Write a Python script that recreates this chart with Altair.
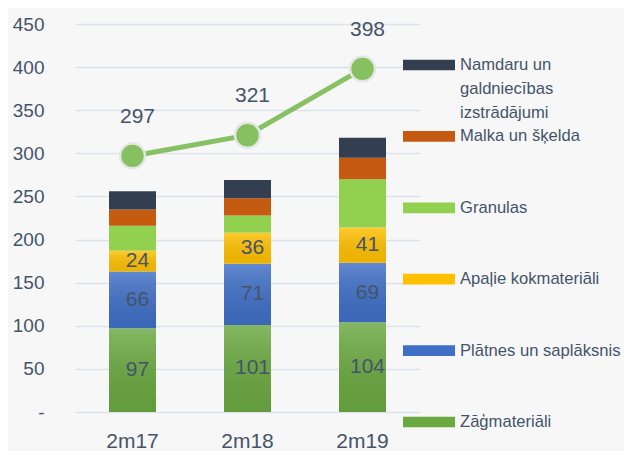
import altair as alt
import pandas as pd

years = ["2m17", "2m18", "2m19"]
series = ["Zāģmateriāli", "Plātnes un saplāksnis", "Apaļie kokmateriāli",
          "Granulas", "Malka un šķelda", "Namdaru un galdniecības izstrādājumi"]
zag = [97, 101, 104]
plat = [66, 71, 69]
apal = [24, 36, 41]
gran = [29, 20, 56]
malka = [19, 20, 25]
namd = [21, 21, 23]
totals = [297, 321, 398]
colors = ["#6AA840", "#3F6FC6", "#FFC000", "#92D050", "#C55A11", "#333F50"]
legend_labels = ["Namdaru un\ngaldniecības\nizstrādājumi", "Malka un šķelda", "Granulas",
                 "Apaļie kokmateriāli", "Plātnes un saplāksnis", "Zāģmateriāli"]
y_ticks = [0, 50, 100, 150, 200, 250, 300, 350, 400, 450]

FONT = "Liberation Sans, Arial, sans-serif"
TXT = "#44546A"

values = [zag, plat, apal, gran, malka, namd]
rows = []
for si, (name, vals) in enumerate(zip(series, values)):
    for yi, yr in enumerate(years):
        rows.append({"year": yr, "series": name, "idx": si, "value": vals[yi]})
df = pd.DataFrame(rows)
tot_df = pd.DataFrame({"year": years, "total": totals})
leg_df = pd.DataFrame({
    "series": list(reversed(series)),
    "label": legend_labels,
    "pos": list(range(6)),
})

yscale = alt.Scale(domain=[0, 450], nice=False, zero=True)
xscale = alt.Scale(domain=years, paddingInner=0, paddingOuter=0)

base = alt.Chart(df).transform_stack(
    stack="value", groupby=["year"], sort=[alt.SortField("idx", order="ascending")],
    as_=["y0", "y1"]
)

bars = base.mark_bar(size=47).encode(
    x=alt.X("year:N", scale=xscale, sort=years, title=None,
            axis=alt.Axis(labelAngle=0, ticks=False, domain=False, grid=False,
                          labelFontSize=21, labelFont=FONT, labelColor=TXT,
                          labelPadding=18)),
    y=alt.Y("y1:Q", scale=yscale, title=None,
            axis=alt.Axis(values=y_ticks, ticks=False, domain=False, grid=True,
                          gridColor="#DCE2EA", gridWidth=1.5,
                          labelFontSize=19, labelFont=FONT, labelColor=TXT,
                          labelPadding=31,
                          labelExpr="datum.value == 0 ? '-\u00a0\u00a0\u00a0' : datum.label")),
    y2="y0:Q",
    color=alt.Color("series:N", scale=alt.Scale(domain=series, range=colors), legend=None),
)

overlay = base.transform_filter("datum.idx < 3").mark_bar(
    size=47,
    color=alt.Gradient(
        gradient="linear", x1=0, y1=0, x2=0, y2=1,
        stops=[alt.GradientStop(offset=0, color="rgba(255,255,255,0.18)"),
               alt.GradientStop(offset=1, color="rgba(0,0,0,0.07)")],
    ),
).encode(
    x=alt.X("year:N", scale=xscale, sort=years),
    y=alt.Y("y1:Q", scale=yscale),
    y2="y0:Q",
)

bar_labels = base.transform_filter("datum.idx < 3").transform_calculate(
    mid="(datum.y0 + datum.y1) / 2"
).mark_text(fontSize=21, font=FONT, color=TXT, dx=5, baseline="middle").encode(
    x=alt.X("year:N", scale=xscale, sort=years),
    y=alt.Y("mid:Q", scale=yscale),
    text="value:Q",
)

line = alt.Chart(tot_df).mark_line(color="#88C163", strokeWidth=5).encode(
    x=alt.X("year:N", scale=xscale, sort=years),
    y=alt.Y("total:Q", scale=yscale),
)
pts = alt.Chart(tot_df).mark_point(filled=True, size=620, fill="#86C060",
                                   stroke="#E4E6E4", strokeWidth=2.5, opacity=1).encode(
    x=alt.X("year:N", scale=xscale, sort=years),
    y=alt.Y("total:Q", scale=yscale),
)
pt_labels = alt.Chart(tot_df).mark_text(fontSize=21, font=FONT, color=TXT, dx=5, dy=-39,
                                        baseline="middle").encode(
    x=alt.X("year:N", scale=xscale, sort=years),
    y=alt.Y("total:Q", scale=yscale),
    text="total:Q",
)

main = alt.layer(bars, overlay, bar_labels, line, pts, pt_labels)

lscale = alt.Scale(domain=[0, 5], range=[41, 398], nice=False, zero=False)
swatches = alt.Chart(leg_df).transform_calculate(
    ya="datum.pos - 0.075", yb="datum.pos + 0.075"
).mark_rect().encode(
    x=alt.value(328), x2=alt.value(380),
    y=alt.Y("ya:Q", scale=lscale, axis=None),
    y2="yb:Q",
    color=alt.Color("series:N", scale=alt.Scale(domain=series, range=colors), legend=None),
)
leg_text = alt.Chart(leg_df).mark_text(align="left", baseline="middle", lineBreak="\n",
                                       lineHeight=24, fontSize=16.6, font=FONT, color=TXT).encode(
    x=alt.value(385),
    y=alt.Y("pos:Q", scale=lscale, axis=None),
    text="label:N",
)
legend = alt.layer(swatches, leg_text)

chart = alt.layer(main, legend).resolve_scale(y="independent", color="shared").properties(
    width=345, height=388,
    padding={"left": 67, "top": 16, "right": 204, "bottom": 39},
    autosize=alt.AutoSizeParams(type="none"),
    background="#F7F7F7",
    title=alt.TitleParams("STRUKTŪRA, MLJ.EUR", fontSize=24, font=FONT, fontWeight="bold",
                          color=TXT, anchor="middle", dx=70, offset=12),
).configure_view(stroke=None)

chart.save("out.html", embed_options={"renderer": "svg", "actions": False})
